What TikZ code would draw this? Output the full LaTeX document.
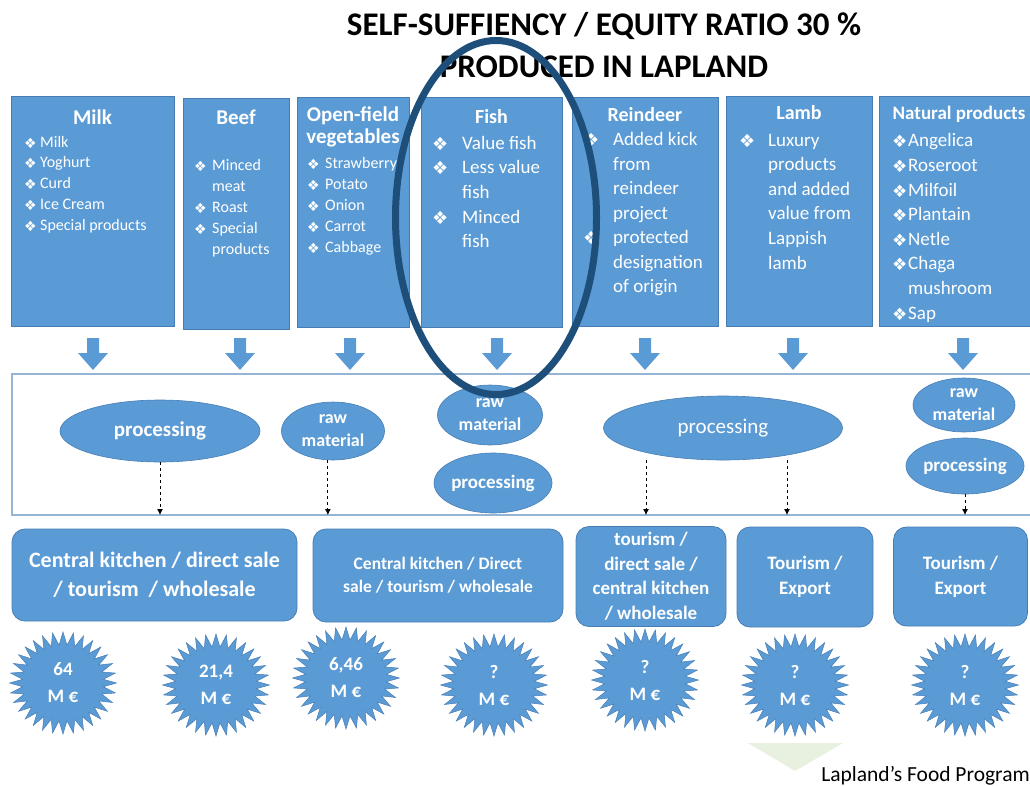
\documentclass[tikz,border=0pt]{standalone}
\usepackage{fontspec}
\setmainfont{Carlito}
\newfontfamily\dingfont{DejaVu Sans}
\usetikzlibrary{positioning, shapes.geometric, shapes.symbols, arrows.meta}

\definecolor{boxblue}{RGB}{91,155,213}
\definecolor{edgeblue}{RGB}{72,125,180}
\definecolor{ringblue}{RGB}{30,78,122}
\definecolor{framegray}{RGB}{150,180,212}
\definecolor{leafgreen}{RGB}{232,241,224}

% bullet of the product lists
\newcommand{\bul}[1][14]{\raisebox{-1pt}{\dingfont\fontsize{#1}{#1}\selectfont\char"2756}}

\begin{document}
\begin{tikzpicture}[x=1pt, y=-1pt,
  title/.style={font=\bfseries\fontsize{33}{40}\selectfont, inner sep=0pt, anchor=base},
  prodbox/.style={draw=edgeblue, fill=boxblue, line width=0.8pt, inner sep=0pt, outer sep=0pt},
  head/.style={text=white, font=\bfseries\fontsize{21}{22}\selectfont, inner sep=0pt, align=center},
  lst/.style={text=white, inner sep=0pt},
  oval/.style={ellipse, draw=edgeblue, fill=boxblue, line width=0.6pt, inner sep=0pt, text=white, align=center},
  outbox/.style={draw=edgeblue, fill=boxblue, rounded corners=13pt, line width=0.8pt, inner sep=0pt, text=white, align=center},
  burst/.style={starburst, starburst points=32, starburst point height=13pt, random starburst=0,
    fill=boxblue, draw=edgeblue, line width=0.5pt, inner sep=0pt, minimum width=107pt, minimum height=102pt,
    text=white, align=center, font=\bfseries\fontsize{19}{27}\selectfont},
  flow/.style={dashed, line width=0.8pt, -{Latex[length=6pt, width=6pt]}}]

\useasboundingbox (0,0) rectangle (1030,785);

\node[title] (title1) at (604,35) {SELF-SUFFIENCY / EQUITY RATIO 30 \%};
\node[title] (title2) at (604,77) {PRODUCED IN LAPLAND};

% product groups
\node[prodbox, minimum width=163pt, minimum height=230pt] (milk) at (92.5,211) {};
\node[prodbox, minimum width=106pt, minimum height=231pt] (beef) at (236,213.5) {};
\node[prodbox, minimum width=112pt, minimum height=230pt] (veg) at (353,212) {};
\node[prodbox, minimum width=141pt, minimum height=230pt] (fish) at (491.5,212) {};
\node[prodbox, minimum width=146pt, minimum height=229pt] (reindeer) at (645,211.5) {};
\node[prodbox, minimum width=146pt, minimum height=230pt] (lamb) at (799,211) {};
\node[prodbox, minimum width=160pt, minimum height=230pt] (natural) at (959,211) {};

\node[head, below=13.5pt of milk.north] (milkhead) {Milk};
\node[head, below=11.7pt of beef.north] (beefhead) {Beef};
\node[head, font=\bfseries\fontsize{21}{22}\selectfont, below=9.7pt of veg.north] (veghead) {Open-field\\vegetables};
\node[head, font=\bfseries\fontsize{20}{22}\selectfont, below=12.2pt of fish.north] (fishhead) {Fish};
\node[head, font=\bfseries\fontsize{20}{22}\selectfont, below=10.2pt of reindeer.north] (reindeerhead) {Reindeer};
\node[head, font=\bfseries\fontsize{20}{22}\selectfont, below=9.2pt of lamb.north] (lambhead) {Lamb};
\node[head, font=\bfseries\fontsize{19}{22}\selectfont, below=9.7pt of natural.north] (naturalhead) {Natural products};

\node[lst, font=\fontsize{16}{20.8}\selectfont, below right=36.4pt and 13pt of milk.north west] (milklist)
  {\begin{tabular}{@{}p{16pt}@{}l@{}}
   \bul & Milk\\ \bul & Yoghurt\\ \bul & Curd\\ \bul & Ice Cream\\ \bul & Special products
   \end{tabular}};
\node[lst, font=\fontsize{16}{21}\selectfont, below right=57.3pt and 11pt of beef.north west] (beeflist)
  {\begin{tabular}{@{}p{18pt}@{}l@{}}
   \bul & Minced\\ & meat\\ \bul & Roast\\ \bul & Special\\ & products
   \end{tabular}};
\node[lst, font=\fontsize{16}{21}\selectfont, below right=56.3pt and 10pt of veg.north west] (veglist)
  {\begin{tabular}{@{}p{18pt}@{}l@{}}
   \bul & Strawberry\\ \bul & Potato\\ \bul & Onion\\ \bul & Carrot\\ \bul & Cabbage
   \end{tabular}};
\node[lst, font=\fontsize{19}{24.7}\selectfont, below right=34.7pt and 11pt of fish.north west] (fishlist)
  {\begin{tabular}{@{}p{30pt}@{}l@{}}
   \bul[18] & Value fish\\ \bul[18] & Less value\\ & fish\\ \bul[18] & Minced\\ & fish
   \end{tabular}};
\node[lst, font=\fontsize{19}{24.5}\selectfont, below right=31.6pt and 11pt of reindeer.north west] (reindeerlist)
  {\begin{tabular}{@{}p{30pt}@{}l@{}}
   \bul[18] & Added kick\\ & from\\ & reindeer\\ & project\\ \bul[18] & protected\\ & designation\\ & of origin
   \end{tabular}};
\node[lst, font=\fontsize{19}{24.6}\selectfont, below right=32.6pt and 13pt of lamb.north west] (lamblist)
  {\begin{tabular}{@{}p{29pt}@{}l@{}}
   \bul[18] & Luxury\\ & products\\ & and added\\ & value from\\ & Lappish\\ & lamb
   \end{tabular}};
\node[lst, font=\fontsize{19}{24.6}\selectfont, below right=33.5pt and 13pt of natural.north west] (naturallist)
  {\begin{tabular}{@{}p{16pt}@{}l@{}}
   \bul[17] & Angelica\\ \bul[17] & Roseroot\\ \bul[17] & Milfoil\\ \bul[17] & Plantain\\
   \bul[17] & Netle\\ \bul[17] & Chaga\\ & mushroom\\ \bul[17] & Sap
   \end{tabular}};

% block arrows into the chain
\foreach \x in {93,240,350,497,645,793,963}
  \fill[boxblue] (\x-6,338) -- (\x+6,338) -- (\x+6,353) -- (\x+15,353) -- (\x,370) -- (\x-15,353) -- (\x-6,353) -- cycle;

\node[draw=framegray, line width=1.5pt, inner sep=0pt, outer sep=0pt, minimum width=1020pt, minimum height=141pt] (frame) at (522,444.5) {};

% processing steps
\node[oval, minimum width=200pt, minimum height=62pt, font=\bfseries\fontsize{21}{22}\selectfont] (proc1) at (160,431) {processing};
\node[oval, minimum width=103pt, minimum height=58pt, font=\bfseries\fontsize{18}{23}\selectfont] (rawveg) at (333,431) {raw\\material};
\node[oval, minimum width=105pt, minimum height=60pt, font=\bfseries\fontsize{18}{23}\selectfont] (rawfish) at (490,415) {raw\\material};
\node[oval, minimum width=104pt, minimum height=60pt, font=\bfseries\fontsize{19}{22}\selectfont] (procfish) at (493,483) {processing};
\node[oval, minimum width=239pt, minimum height=64pt, font=\fontsize{21}{22}\selectfont] (proc2) at (723,428) {processing};
\node[oval, minimum width=102pt, minimum height=54pt, font=\bfseries\fontsize{18}{23}\selectfont] (rawnat) at (964,405) {raw\\material};
\node[oval, minimum width=105pt, minimum height=56pt, font=\bfseries\fontsize{19}{22}\selectfont] (procnat) at (965,466) {processing};

\coordinate (t1) at ([xshift=-77pt]proc2.south);
\coordinate (t2) at ([xshift=64pt]proc2.south);
\draw[flow] (proc1.south) -- (proc1.south |- frame.south);
\draw[flow] (rawveg.-100) -- (rawveg.-100 |- frame.south);
\draw[flow] (t1) -- (t1 |- frame.south);
\draw[flow] (t2) -- (t2 |- frame.south);
\draw[flow] (procnat.south) -- (procnat.south |- frame.south);

% sales channels
\node[outbox, minimum width=285pt, minimum height=92pt, font=\bfseries\fontsize{22}{29}\selectfont] (sale1) at (154.5,575) {Central kitchen / direct sale\\/ tourism \ / wholesale};
\node[outbox, minimum width=250pt, minimum height=93pt, font=\bfseries\fontsize{17.5}{23}\selectfont] (sale2) at (438,575.5) {Central kitchen / Direct\\sale / tourism / wholesale};
\node[outbox, minimum width=150pt, minimum height=100pt, font=\bfseries\fontsize{19}{24.5}\selectfont] (sale3) at (651,576.5) {tourism /\\direct sale /\\central kitchen\\/ wholesale};
\node[outbox, minimum width=136pt, minimum height=100pt, font=\bfseries\fontsize{19}{25}\selectfont] (export1) at (805,577) {Tourism /\\Export};
\node[outbox, minimum width=134pt, minimum height=99pt, font=\bfseries\fontsize{19}{25}\selectfont] (export2) at (960.5,576.5) {Tourism /\\Export};

% value of each group
\node[burst] (val1) at (63,683) {64\\M €};
\node[burst] (val2) at (216,685) {21,4\\M €};
\node[burst] (val3) at (346,678) {6,46\\M €};
\node[burst] (val4) at (494,685) {?\\M €};
\node[burst] (val5) at (645,680) {?\\M €};
\node[burst] (val6) at (795,685) {?\\M €};
\node[burst] (val7) at (965,685) {?\\M €};

\fill[leafgreen] (748,743) -- (843,743) -- (795,771) -- cycle;
\node[anchor=base east, inner sep=0pt, font=\fontsize{21.5}{24}\selectfont] (program) at (1030,781) {Lapland’s Food Program};

% highlight of the fish column
\node[draw=ringblue, line width=7pt, ellipse, minimum width=201pt, minimum height=354pt, inner sep=0pt] (ring) at (496,217.5) {};

\end{tikzpicture}
\end{document}
